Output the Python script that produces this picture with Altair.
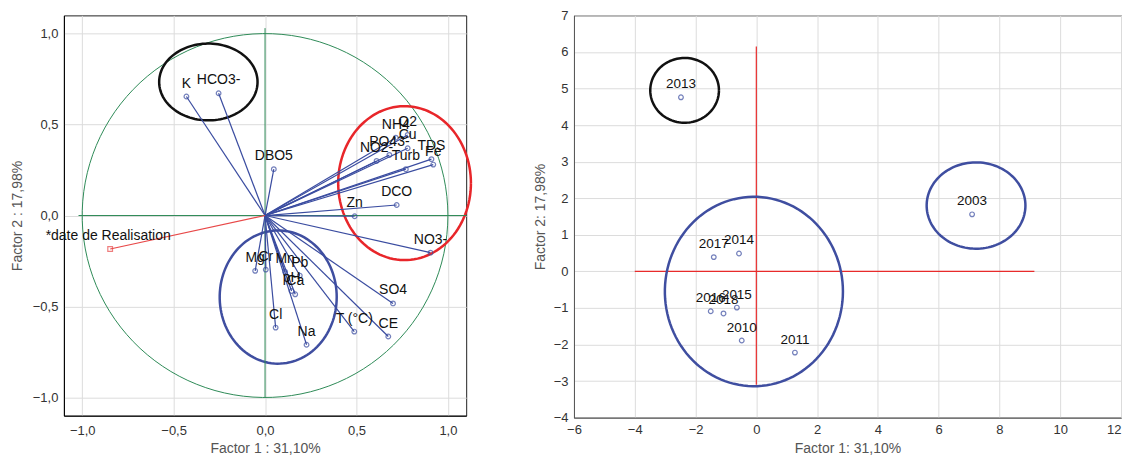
import altair as alt
import numpy as np
import pandas as pd

# ---------- Left panel: variable loadings ----------
var_names = ["K", "HCO3-", "DBO5", "NH4", "O2", "Cu", "PO43-", "NO2-", "TDS", "Fe", "Turb",
             "DCO", "Zn", "NO3-", "SO4", "CE", "T (°C)", "Na", "Cl", "Mg", "Cr", "Mn", "Pb", "pH", "Ca"]
var_x = [-0.43, -0.254, 0.048, 0.715, 0.78, 0.78, 0.68, 0.61, 0.91, 0.92, 0.77,
         0.72, 0.49, 0.905, 0.70, 0.674, 0.488, 0.227, 0.058, -0.054, 0.004, 0.11, 0.19, 0.145, 0.165]
var_y = [0.654, 0.672, 0.255, 0.428, 0.443, 0.37, 0.333, 0.30, 0.31, 0.28, 0.255,
         0.058, -0.004, -0.204, -0.483, -0.665, -0.638, -0.71, -0.616, -0.304, -0.297, -0.31, -0.33, -0.415, -0.433]

date_name = ["*date de Realisation"]
date_x = [-0.847]
date_y = [-0.184]

# ellipse annotations (center x, center y, radius x, radius y)
left_ell_names = ["unit", "black", "red", "blue"]
left_ell_cx = [0.0, -0.31, 0.763, 0.072]
left_ell_cy = [0.0, 0.734, 0.178, -0.448]
left_ell_rx = [1.0, 0.269, 0.363, 0.32]
left_ell_ry = [1.0, 0.211, 0.423, 0.366]
left_ell_colors = ["#2e8b57", "#111111", "#e8262a", "#3f4ea0"]
left_ell_widths = [1, 2.5, 2.5, 2.5]

# ---------- Right panel: observation scores ----------
year_names = ["2013", "2003", "2017", "2014", "2016", "2018", "2015", "2010", "2011"]
year_x = [-2.48, 7.10, -1.40, -0.57, -1.50, -1.08, -0.64, -0.48, 1.27]
year_y = [4.76, 1.56, 0.39, 0.49, -1.09, -1.15, -0.99, -1.89, -2.22]

right_ell_names = ["black", "blue2003", "bluebig"]
right_ell_cx = [-2.36, 7.23, -0.08]
right_ell_cy = [4.95, 1.80, -0.55]
right_ell_rx = [1.13, 1.625, 2.93]
right_ell_ry = [0.886, 1.18, 2.59]
right_ell_colors = ["#111111", "#3f4ea0", "#3f4ea0"]

FONT = "Liberation Sans"
BLUE = "#3a4ca0"


def ellipse_df(cx, cy, rx, ry, n=120):
    t = np.linspace(0, 2 * np.pi, n)
    return pd.DataFrame({"x": cx + rx * np.cos(t), "y": cy + ry * np.sin(t), "o": np.arange(n)})


def comma_fmt(fmt):
    return "replace(format(datum.value, '" + fmt + "'), '.', ',')"


common = dict(grid=True, gridColor="#dcdcdc", ticks=False,
              labelFontSize=13, labelColor="#333", titleFontSize=14, labelFlush=False,
              titleColor="#555", titleFontWeight="normal", labelFont=FONT, titleFont=FONT)

# ---- left chart ----
lx = alt.X("x:Q", scale=alt.Scale(domain=[-1.1, 1.1], nice=False, zero=False),
           axis=alt.Axis(values=[-1, -0.5, 0, 0.5, 1], labelExpr=comma_fmt(".1f"),
                         title="Factor 1 : 31,10%", domainColor="#000",
                         labelPadding=9, titlePadding=4, **common))
ly = alt.Y("y:Q", scale=alt.Scale(domain=[-1.1, 1.1], nice=False, zero=False),
           axis=alt.Axis(values=[-1, -0.5, 0, 0.5, 1], labelExpr=comma_fmt(".1f"),
                         title="Factor 2 : 17,98%", domainColor="#000",
                         labelPadding=6, titlePadding=8, **common))

left_layers = []
for name, cx, cy, rx, ry, col, w in zip(left_ell_names, left_ell_cx, left_ell_cy, left_ell_rx,
                                        left_ell_ry, left_ell_colors, left_ell_widths):
    left_layers.append(
        alt.Chart(ellipse_df(cx, cy, rx, ry)).mark_line(color=col, strokeWidth=w, clip=False)
        .encode(x=lx, y=ly, order="o:Q"))

axes_df = pd.DataFrame({"x": [-1.02, 0.0], "y": [0.0, 1.03], "x2": [1.1, 0.0], "y2": [0.0, -1.0]})
left_layers.append(alt.Chart(axes_df).mark_rule(color="#2e8b57", strokeWidth=1)
                   .encode(x=lx, y=ly, x2="x2:Q", y2="y2:Q"))

vdf = pd.DataFrame({"name": var_names, "x": var_x, "y": var_y, "x0": 0.0, "y0": 0.0})
ddf = pd.DataFrame({"name": date_name, "x": date_x, "y": date_y, "x0": 0.0, "y0": 0.0})

left_layers.append(alt.Chart(vdf).mark_rule(color=BLUE, strokeWidth=1.2)
                   .encode(x="x0:Q", y="y0:Q", x2="x:Q", y2="y:Q"))
left_layers.append(alt.Chart(ddf).mark_rule(color="#e84848", strokeWidth=1.2)
                   .encode(x="x0:Q", y="y0:Q", x2="x:Q", y2="y:Q"))
left_layers.append(alt.Chart(vdf).mark_point(shape="circle", filled=False, color=BLUE, size=22, strokeWidth=1.2)
                   .encode(x=lx, y=ly))
left_layers.append(alt.Chart(ddf).mark_point(shape="square", filled=False, color="#e84848", size=22, strokeWidth=1.2)
                   .encode(x=lx, y=ly))
left_layers.append(alt.Chart(vdf).mark_text(dy=-13, fontSize=14, font=FONT, color="#111")
                   .encode(x=lx, y=ly, text="name:N"))
left_layers.append(alt.Chart(ddf).mark_text(dy=-13, dx=-2, fontSize=14, font=FONT, color="#111")
                   .encode(x=lx, y=ly, text="name:N"))

left = alt.layer(*left_layers).properties(width=403, height=401)

# ---- right chart ----
rx_enc = alt.X("x:Q", scale=alt.Scale(domain=[-6, 12], nice=False, zero=False),
               axis=alt.Axis(values=list(range(-6, 13, 2)), title="Factor 1: 31,10%",
                             labelAlign=alt.ExprRef(expr="datum.value == 12 ? 'right' : 'center'"),
                             domainColor="#555", labelPadding=6, titlePadding=5, **common))
ry_enc = alt.Y("y:Q", scale=alt.Scale(domain=[-4, 7], nice=False, zero=False),
               axis=alt.Axis(values=list(range(-4, 8)), title="Factor 2: 17,98%",
                             domainColor="#555", labelPadding=6, titlePadding=6, **common))

right_layers = []
cross_df = pd.DataFrame({"x": [-4.0, 0.0], "y": [0.0, 6.15], "x2": [9.15, 0.0], "y2": [0.0, -3.1]})
right_layers.append(alt.Chart(cross_df).mark_rule(color="#e82b2b", strokeWidth=1.2)
                    .encode(x=rx_enc, y=ry_enc, x2="x2:Q", y2="y2:Q"))
for name, cx, cy, erx, ery, col in zip(right_ell_names, right_ell_cx, right_ell_cy, right_ell_rx,
                                       right_ell_ry, right_ell_colors):
    right_layers.append(
        alt.Chart(ellipse_df(cx, cy, erx, ery)).mark_line(color=col, strokeWidth=2.5)
        .encode(x=rx_enc, y=ry_enc, order="o:Q"))

ydf = pd.DataFrame({"name": year_names, "x": year_x, "y": year_y})
right_layers.append(alt.Chart(ydf).mark_point(shape="circle", filled=False, color=BLUE, size=22, strokeWidth=1.2)
                    .encode(x=rx_enc, y=ry_enc))
right_layers.append(alt.Chart(ydf).mark_text(dy=-13, fontSize=13.5, font=FONT, color="#111")
                    .encode(x=rx_enc, y=ry_enc, text="name:N"))

right = alt.layer(*right_layers).properties(width=548, height=403)

chart = alt.hconcat(left, right, spacing=55).properties(
    padding={"left": 1, "top": 0, "right": 0, "bottom": 0}
).configure_view(stroke="#222", strokeWidth=1).configure_axis(labelFont=FONT, titleFont=FONT)

chart.save("out.html", embed_options={"renderer": "svg", "actions": False})
